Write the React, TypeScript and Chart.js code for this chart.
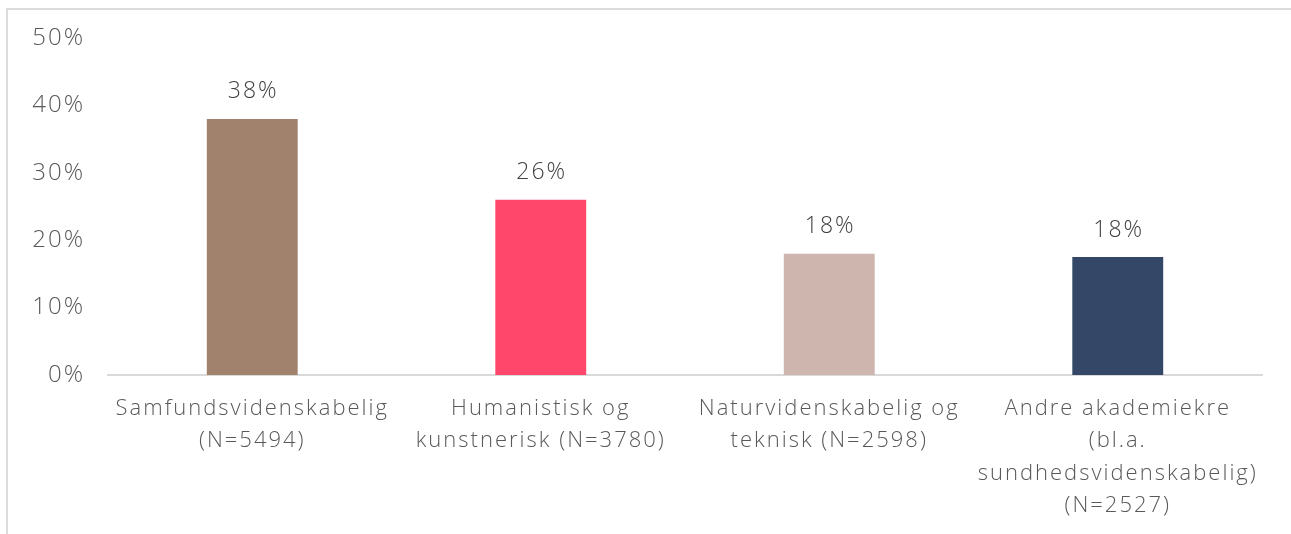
import React, { useEffect, useRef } from "react";
import { Chart, registerables } from "chart.js";

Chart.register(...registerables);

const categories: string[][] = [
  ["Samfundsvidenskabelig", "(N=5494)"],
  ["Humanistisk og", "kunstnerisk (N=3780)"],
  ["Naturvidenskabelig og", "teknisk (N=2598)"],
  ["Andre akademiekre", "(bl.a.", "sundhedsvidenskabelig)", "(N=2527)"],
];
const values: number[] = [38, 26, 18, 17.5];
const valueLabels: string[] = ["38%", "26%", "18%", "18%"];
const barColors: string[] = ["#A1826D", "#FF476B", "#CEB5AD", "#344766"];
const yTicks: number[] = [0, 10, 20, 30, 40, 50];

const FONT = "'Open Sans', Lato, sans-serif";
const SPACING = "2px";

const spacingPlugin = {
  id: "letterSpacing",
  beforeLayout(chart: any) {
    chart.ctx.letterSpacing = SPACING;
  },
  beforeDraw(chart: any) {
    chart.ctx.letterSpacing = SPACING;
  },
};

const valueLabelPlugin = {
  id: "valueLabels",
  afterDatasetsDraw(chart: any) {
    const ctx = chart.ctx;
    const meta = chart.getDatasetMeta(0);
    ctx.save();
    ctx.letterSpacing = SPACING;
    ctx.font = `300 23px ${FONT}`;
    ctx.fillStyle = "#404040";
    ctx.textAlign = "center";
    ctx.textBaseline = "middle";
    meta.data.forEach((bar: any, i: number) => {
      ctx.fillText(valueLabels[i], bar.x + 1, bar.y - 27);
    });
    ctx.restore();
  },
};

export default function App() {
  const ref = useRef<HTMLCanvasElement | null>(null);
  useEffect(() => {
    if (!ref.current) return;
    const chart = new Chart(ref.current, {
      type: "bar",
      data: {
        labels: categories,
        datasets: [
          {
            data: values,
            backgroundColor: barColors,
            borderWidth: 0,
            categoryPercentage: 1,
            barPercentage: 0.315,
          },
        ],
      },
      options: {
        animation: false,
        responsive: true,
        maintainAspectRatio: false,
        layout: { padding: { top: 38, right: 29, left: 0, bottom: 0 } },
        plugins: { legend: { display: false }, tooltip: { enabled: false } },
        scales: {
          x: {
            grid: { display: false, drawTicks: false },
            border: { display: true, color: "#d9d9d9", width: 2 },
            ticks: {
              autoSkip: false,
              maxRotation: 0,
              minRotation: 0,
              padding: 18,
              color: "#595959",
              font: { family: FONT, size: 22, weight: "300", lineHeight: 1.46 },
            },
            afterFit: (s: any) => {
              s.height = 534 - 375;
            },
          },
          y: {
            min: 0,
            max: 50,
            afterBuildTicks: (s: any) => {
              s.ticks = yTicks.map((v) => ({ value: v }));
            },
            grid: { display: false, drawTicks: false },
            border: { display: false },
            ticks: {
              padding: 23,
              color: "#595959",
              font: { family: FONT, size: 24, weight: "300" },
              callback: (v: any) => `${v}%`,
            },
            afterFit: (s: any) => {
              s.width = 108;
            },
          },
        },
      },
      plugins: [spacingPlugin, valueLabelPlugin],
    });
    return () => chart.destroy();
  }, []);

  return (
    <div
      style={{
        position: "fixed",
        left: 0,
        top: 0,
        width: 1291,
        height: 534,
        background: "#ffffff",
      }}
    >
      <div
        style={{
          position: "absolute",
          left: 6,
          top: 8,
          right: 0,
          bottom: 0,
          borderTop: "2px solid #dcdcdc",
          borderLeft: "2px solid #dcdcdc",
        }}
      />
      <canvas ref={ref} style={{ position: "absolute", left: 0, top: 0, width: 1291, height: 534 }} />
    </div>
  );
}
